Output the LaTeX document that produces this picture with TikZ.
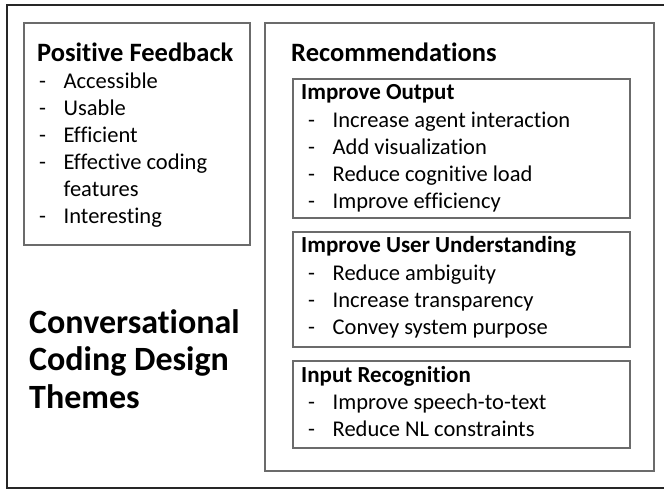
\documentclass[tikz,border=0pt]{standalone}
\usepackage{fontspec}
\setmainfont{Carlito}[Ligatures={NoCommon,NoContextual}]
\newcommand{\guion}{\makebox[24.5pt][l]{-}}
\begin{document}
\begin{tikzpicture}[x=1pt,y=-1pt,
    caja/.style={draw=black!58,line width=1.3pt},
    titulo/.style={anchor=base west,inner sep=0pt,font=\bfseries\fontsize{26.5}{30}\selectfont},
    subtitulo/.style={anchor=base west,inner sep=0pt,font=\bfseries\fontsize{23}{27}\selectfont},
    tema/.style={anchor=base west,inner sep=0pt,font=\bfseries\fontsize{34}{38}\selectfont},
    item/.style={anchor=base west,inner sep=0pt,font=\fontsize{22.5}{27}\selectfont}]
    \useasboundingbox (0,0) rectangle (664,489);

    % Marco exterior
    \draw[line width=2.2pt,black!85] (7,5) rectangle (690,488);

    % Caja de comentarios positivos
    \draw[caja] (24,23) rectangle (250,245);
    \node[titulo] (pf) at (37,62) {Positive Feedback};
    \node[item] (pf1) at (39,89) {\guion Accessible};
    \node[item] (pf2) at (39,116) {\guion Usable};
    \node[item] (pf3) at (39,143) {\guion Efficient};
    \node[item] (pf4) at (39,170) {\guion Effective coding};
    \node[item] (pf4b) at (63.5,197) {features};
    \node[item] (pf5) at (39,224) {\guion Interesting};

    % Titulo
    \node[tema] (t1) at (29,333) {Conversational};
    \node[tema] (t2) at (29,370.5) {Coding Design};
    \node[tema] (t3) at (29,408) {Themes};

    % Caja de recomendaciones
    \draw[caja] (265,23) rectangle (654,471);
    \node[titulo] (rec) at (291,62) {Recommendations};

    % Improve Output
    \draw[caja] (293,79) rectangle (630,218);
    \node[subtitulo] (io) at (301,100) {Improve Output};
    \node[item] (io1) at (308,128) {\guion Increase agent interaction};
    \node[item] (io2) at (308,155) {\guion Add visualization};
    \node[item] (io3) at (308,182) {\guion Reduce cognitive load};
    \node[item] (io4) at (308,209) {\guion Improve efficiency};

    % Improve User Understanding
    \draw[caja] (293,232) rectangle (630,347);
    \node[subtitulo] (iu) at (301,253) {Improve User Understanding};
    \node[item] (iu1) at (308,280) {\guion Reduce ambiguity};
    \node[item] (iu2) at (308,307) {\guion Increase transparency};
    \node[item] (iu3) at (308,334) {\guion Convey system purpose};

    % Input Recognition
    \draw[caja] (293,361) rectangle (630,448);
    \node[subtitulo] (ir) at (301,382) {Input Recognition};
    \node[item] (ir1) at (308,409) {\guion Improve speech-to-text};
    \node[item] (ir2) at (308,436) {\guion Reduce NL constraints};
\end{tikzpicture}
\end{document}
